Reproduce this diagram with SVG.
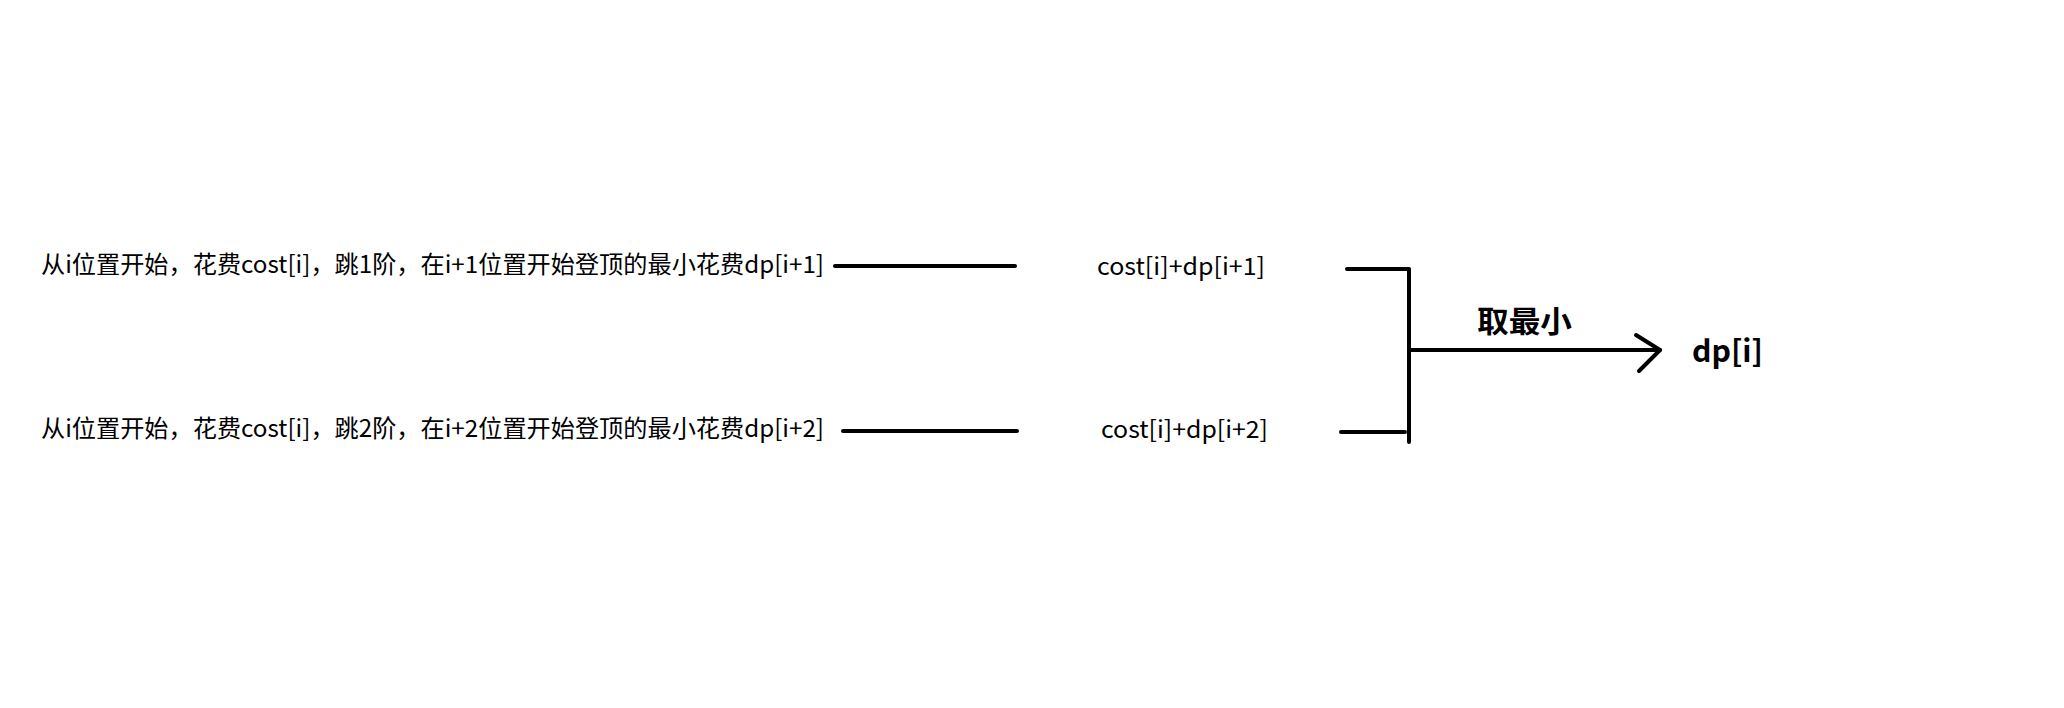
<svg xmlns="http://www.w3.org/2000/svg" width="2064" height="708" viewBox="0 0 2064 708">
<style>
.t{font-family:"Microsoft YaHei","Noto Sans CJK SC","Noto Sans",sans-serif;fill:#000}
.n{font-size:24px}
.b{font-size:30px;font-weight:bold}
.ln{stroke:#000;stroke-width:4;stroke-linecap:round;fill:none;stroke-linejoin:round}
</style>
<rect width="2064" height="708" fill="#fff"/>
<g id="node-step1">
<text class="t n" x="41" y="273" textLength="783" lengthAdjust="spacingAndGlyphs">从i位置开始，花费cost[i]，跳1阶，在i+1位置开始登顶的最小花费dp[i+1]</text>
</g>
<g id="node-step2">
<text class="t n" x="41" y="437" textLength="783" lengthAdjust="spacingAndGlyphs">从i位置开始，花费cost[i]，跳2阶，在i+2位置开始登顶的最小花费dp[i+2]</text>
</g>
<g id="node-sum1">
<text class="t n" x="1097" y="275" textLength="168" lengthAdjust="spacingAndGlyphs">cost[i]+dp[i+1]</text>
</g>
<g id="node-sum2">
<text class="t n" x="1101" y="438" textLength="167" lengthAdjust="spacingAndGlyphs">cost[i]+dp[i+2]</text>
</g>
<g id="node-min">
<text class="t b" x="1477" y="332" textLength="95" lengthAdjust="spacingAndGlyphs">取最小</text>
</g>
<g id="node-dp">
<text class="t b" x="1692" y="362" textLength="71" lengthAdjust="spacingAndGlyphs">dp[i]</text>
</g>
<g id="connectors">
<line class="ln" x1="835" y1="266" x2="1015" y2="266"/>
<line class="ln" x1="843" y1="431" x2="1017" y2="431"/>
<polyline class="ln" points="1347,269 1409,269 1409,442"/>
<line class="ln" x1="1341" y1="432" x2="1405" y2="432"/>
<line class="ln" x1="1409" y1="350" x2="1660" y2="350"/>
<polyline class="ln" points="1636,335 1660,350 1639,371"/>
</g>
</svg>
